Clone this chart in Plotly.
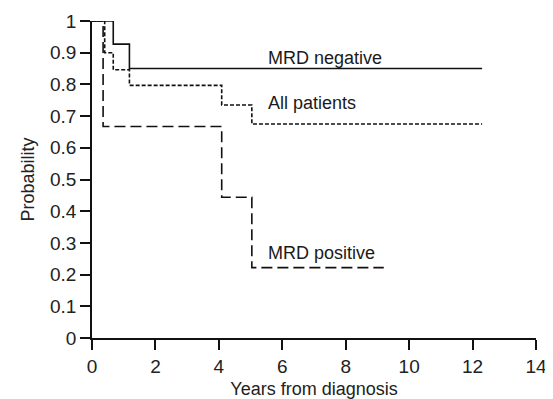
import plotly.graph_objects as go

# Kaplan-Meier step data (years, probability)
neg_t = [0, 0.67, 1.18, 12.3]
neg_s = [1.0, 0.927, 0.85, 0.85]

all_t = [0, 0.40, 0.67, 1.18, 4.09, 5.04, 12.3]
all_s = [1.0, 0.90, 0.846, 0.797, 0.735, 0.675, 0.675]

pos_t = [0, 0.35, 4.09, 5.04, 9.2]
pos_s = [1.0, 0.667, 0.444, 0.222, 0.222]

labels = ["MRD negative", "All patients", "MRD positive"]
label_x = [5.5, 5.5, 5.5]
label_y = [0.882, 0.74, 0.268]

x_ticks = [0, 2, 4, 6, 8, 10, 12, 14]
y_ticks = [0, 0.1, 0.2, 0.3, 0.4, 0.5, 0.6, 0.7, 0.8, 0.9, 1]

col = "#111111"
fig = go.Figure()
fig.add_trace(go.Scatter(x=neg_t, y=neg_s, mode="lines", line=dict(shape="hv", color=col, width=1.6)))
fig.add_trace(go.Scatter(x=all_t, y=all_s, mode="lines", line=dict(shape="hv", color=col, width=1.6, dash="4px,2px")))
fig.add_trace(go.Scatter(x=pos_t, y=pos_s, mode="lines", line=dict(shape="hv", color=col, width=1.6, dash="11px,5px")))

for t, x, y in zip(labels, label_x, label_y):
    fig.add_annotation(x=x, y=y, text=t, xanchor="left", yanchor="middle", showarrow=False,
                       font=dict(size=18, color="#1a1a1a"))

# page body has an 8px default margin, so the figure is offset by 8px
fig.update_layout(
    width=545, height=391,
    margin=dict(l=84, r=17, t=13, b=61),
    paper_bgcolor="white", plot_bgcolor="white",
    showlegend=False,
    font=dict(family="Liberation Sans, Arial", size=17, color="#222"),
)
fig.update_xaxes(range=[0, 14], tickvals=x_ticks, ticks="outside", ticklen=10, tickwidth=1.5,
                 tickcolor=col, showline=True, linecolor=col, linewidth=1.5, showgrid=False,
                 zeroline=False, automargin=False, tickfont=dict(size=19),
                 title=dict(text="Years from diagnosis", standoff=9, font=dict(size=18)))
fig.update_yaxes(range=[0, 1], tickvals=y_ticks, ticks="outside", ticklen=10, tickwidth=1.5,
                 tickcolor=col, showline=True, linecolor=col, linewidth=1.5, showgrid=False,
                 zeroline=False, automargin=False, tickfont=dict(size=19),
                 title=dict(text="Probability", standoff=11, font=dict(size=18)))

fig.write_html("out.html")
